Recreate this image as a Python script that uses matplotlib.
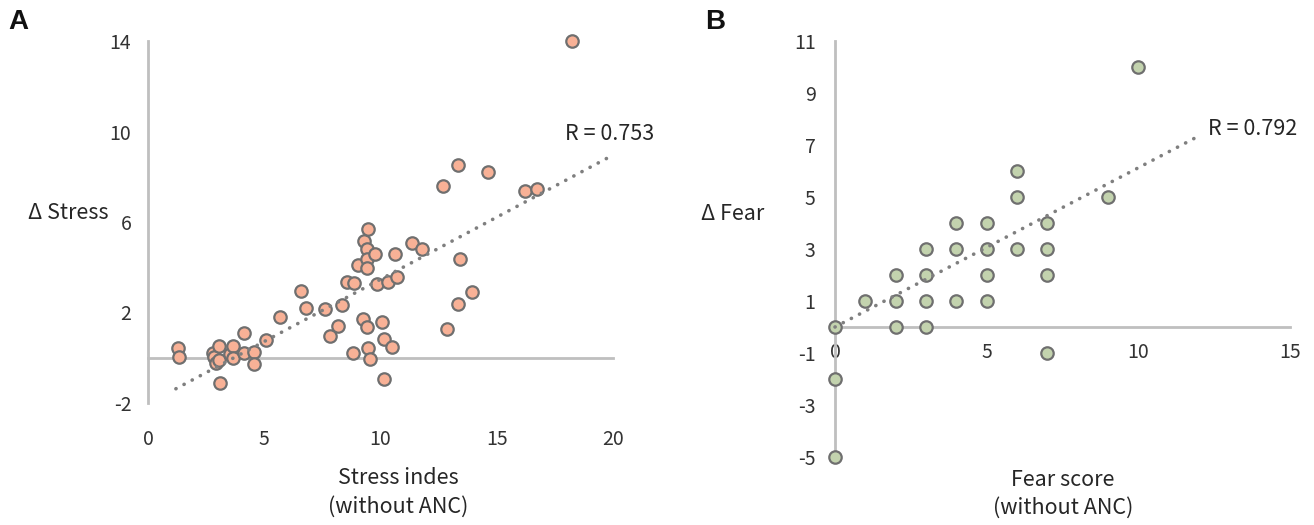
import matplotlib
matplotlib.use("Agg")
import matplotlib.pyplot as plt

plt.rcParams['font.family'] = ['Noto Sans CJK KR', 'DejaVu Sans']
plt.rcParams['axes.unicode_minus'] = False

# ---------------- data ----------------
stress_x = [1.30, 1.35, 2.81, 2.85, 2.92, 3.05, 3.07, 3.10, 3.53, 3.64, 3.67,
            4.14, 4.14, 4.56, 4.57, 5.06, 5.68, 6.58, 6.78, 7.60, 7.83,
            8.16, 8.33, 8.58, 8.80, 8.88,
            9.05, 9.25, 9.30, 9.40, 9.40, 9.40, 9.44, 9.47, 9.47, 9.55, 9.76, 9.83,
            10.08, 10.17, 10.17, 10.34, 10.48, 10.62, 10.69,
            11.34, 11.77, 12.67, 12.88, 13.35, 13.35, 13.42, 13.92, 14.64,
            16.21, 16.71, 18.25]
stress_y = [0.42, 0.02, 0.20, 0.02, -0.25, 0.53, -0.10, -1.10, 0.15, 0.52, 0.00,
            1.11, 0.20, 0.27, -0.29, 0.78, 1.81, 2.96, 2.19, 2.14, 0.96,
            1.40, 2.32, 3.35, 0.20, 3.32,
            4.10, 1.70, 5.17, 4.79, 4.35, 1.38, 3.95, 5.69, 0.42, -0.07, 4.59, 3.25,
            1.60, 0.81, -0.95, 3.33, 0.46, 4.57, 3.55,
            5.06, 4.82, 7.61, 1.27, 8.52, 2.36, 4.37, 2.89, 8.20,
            7.39, 7.45, 14.0]
stress_trend_x = [1.2, 20.0]
stress_trend_y = [-1.37, 8.96]
stress_r = "R = 0.753"

fear_x = [0, 0, 0, 1, 2, 2, 2, 3, 3, 3, 3, 4, 4, 4, 5, 5, 5, 5, 6, 6, 6, 7, 7, 7, 7, 9, 10]
fear_y = [0, -2, -5, 1, 2, 1, 0, 3, 2, 1, 0, 4, 3, 1, 4, 3, 2, 1, 6, 5, 3, 4, 3, 2, -1, 5, 10]
fear_trend_x = [0.0, 12.0]
fear_trend_y = [0.0, 7.35]
fear_r = "R = 0.792"

stress_xticks = [0, 5, 10, 15, 20]
stress_yticks = [-2, 2, 6, 10, 14]
fear_xticks = [0, 5, 10, 15]
fear_yticks = [-5, -3, -1, 1, 3, 5, 7, 9, 11]

# ---------------- style ----------------
W, H = 1314, 525
AXIS_C = '#BFBFBF'
EDGE_C = '#6F6F6F'
TXT_C = '#262626'
TICK_C = '#333333'
ORANGE = '#F8B196'
GREEN = '#C3D3AE'
TREND_C = '#7F7F7F'
LABEL_FS = 15.5
TICK_FS = 14

fig = plt.figure(figsize=(W / 100, H / 100), dpi=100)


def px_axes(x0, x1, y_top, y_bot):
    return fig.add_axes([x0 / W, (H - y_bot) / H, (x1 - x0) / W, (y_bot - y_top) / H])


def style(ax):
    for s in ax.spines.values():
        s.set_visible(False)
    ax.tick_params(length=0, labelsize=TICK_FS, labelcolor=TICK_C)
    ax.set_facecolor('none')


# ---------------- panel A ----------------
axA = px_axes(148, 613, 41, 403)
style(axA)
axA.set_xlim(0, 20)
axA.set_ylim(-2, 14)
axA.plot([0, 0], [-2, 14], color=AXIS_C, lw=2, clip_on=False, zorder=1)
axA.plot([0, 20], [0, 0], color=AXIS_C, lw=2, clip_on=False, zorder=1)
axA.scatter(stress_x, stress_y, s=80, facecolor=ORANGE, edgecolor=EDGE_C,
            linewidth=1.6, clip_on=False, zorder=3)
axA.plot(stress_trend_x, stress_trend_y, color=TREND_C, lw=2.6,
         linestyle=(0, (0.05, 2.5)), dash_capstyle='round', zorder=4, clip_on=False)
axA.set_xticks(stress_xticks)
axA.set_yticks(stress_yticks)
axA.tick_params(axis='x', pad=19)
axA.tick_params(axis='y', pad=12)
axA.text(17.93, 9.89, stress_r, ha='left', va='center', fontsize=LABEL_FS, color=TXT_C)

fig.text(8 / W, 1 - 22 / H, 'A', fontsize=20, fontweight='bold', color='#111111',
         ha='left', va='center', family='Liberation Sans')
fig.text(68 / W, 1 - 213 / H, 'Δ Stress', fontsize=LABEL_FS, color=TXT_C, ha='center', va='center')
fig.text(398 / W, 1 - 478 / H, 'Stress indes', fontsize=LABEL_FS, color=TXT_C, ha='center', va='center')
fig.text(398 / W, 1 - 507 / H, '(without ANC)', fontsize=LABEL_FS, color=TXT_C, ha='center', va='center')

# ---------------- panel B ----------------
axB = px_axes(835, 1290, 41, 457)
style(axB)
axB.set_xlim(0, 15)
axB.set_ylim(-5, 11)
for side, bounds in (('left', (-5, 11)), ('bottom', (0, 15))):
    sp = axB.spines[side]
    sp.set_visible(True)
    sp.set_position(('data', 0))
    sp.set_bounds(*bounds)
    sp.set_color(AXIS_C)
    sp.set_linewidth(2)
axB.scatter(fear_x, fear_y, s=80, facecolor=GREEN, edgecolor=EDGE_C,
            linewidth=1.6, clip_on=False, zorder=3)
axB.plot(fear_trend_x, fear_trend_y, color=TREND_C, lw=2.6,
         linestyle=(0, (0.05, 2.5)), dash_capstyle='round', zorder=4, clip_on=False)
axB.set_xticks(fear_xticks)
axB.set_yticks(fear_yticks)
axB.tick_params(axis='x', pad=11)
axB.tick_params(axis='y', pad=14)
axB.text(12.3, 7.6, fear_r, ha='left', va='center', fontsize=LABEL_FS, color=TXT_C)

fig.text(705 / W, 1 - 22 / H, 'B', fontsize=20, fontweight='bold', color='#111111',
         ha='left', va='center', family='Liberation Sans')
fig.text(733 / W, 1 - 214 / H, 'Δ Fear', fontsize=LABEL_FS, color=TXT_C, ha='center', va='center')
fig.text(1063 / W, 1 - 480 / H, 'Fear score', fontsize=LABEL_FS, color=TXT_C, ha='center', va='center')
fig.text(1063 / W, 1 - 508 / H, '(without ANC)', fontsize=LABEL_FS, color=TXT_C, ha='center', va='center')

fig.savefig('out.png', dpi=100, facecolor='white')
